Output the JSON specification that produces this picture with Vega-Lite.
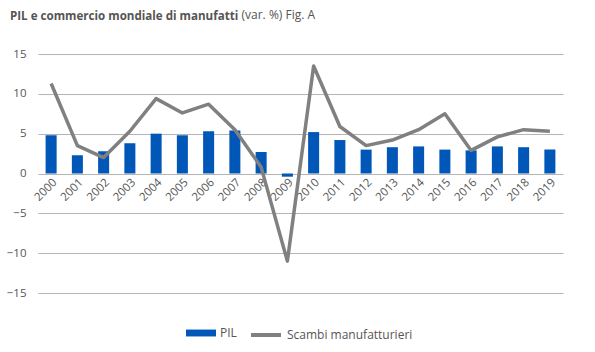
{
  "$schema": "https://vega.github.io/schema/vega-lite/v6.json",
  "width": 525,
  "height": 239,
  "autosize": {"type": "none"},
  "padding": {"left": 38, "top": 54, "right": 32, "bottom": 59},
  "background": "white",
  "title": {
    "text": "PIL e commercio mondiale di manufatti",
    "anchor": "start",
    "frame": "group",
    "dx": -28,
    "offset": -15,
    "font": "Open Sans",
    "fontSize": 11.6,
    "fontWeight": "bold",
    "color": "#555555"
  },
  "data": {
    "values": [
      {"anno": "2000", "serie": "PIL", "valore": 4.8},
      {"anno": "2001", "serie": "PIL", "valore": 2.3},
      {"anno": "2002", "serie": "PIL", "valore": 2.8},
      {"anno": "2003", "serie": "PIL", "valore": 3.8},
      {"anno": "2004", "serie": "PIL", "valore": 5.0},
      {"anno": "2005", "serie": "PIL", "valore": 4.8},
      {"anno": "2006", "serie": "PIL", "valore": 5.3},
      {"anno": "2007", "serie": "PIL", "valore": 5.4},
      {"anno": "2008", "serie": "PIL", "valore": 2.7},
      {"anno": "2009", "serie": "PIL", "valore": -0.4},
      {"anno": "2010", "serie": "PIL", "valore": 5.2},
      {"anno": "2011", "serie": "PIL", "valore": 4.2},
      {"anno": "2012", "serie": "PIL", "valore": 3.0},
      {"anno": "2013", "serie": "PIL", "valore": 3.3},
      {"anno": "2014", "serie": "PIL", "valore": 3.4},
      {"anno": "2015", "serie": "PIL", "valore": 3.0},
      {"anno": "2016", "serie": "PIL", "valore": 2.9},
      {"anno": "2017", "serie": "PIL", "valore": 3.4},
      {"anno": "2018", "serie": "PIL", "valore": 3.3},
      {"anno": "2019", "serie": "PIL", "valore": 3.0},
      {"anno": "2000", "serie": "Scambi manufatturieri", "valore": 11.3},
      {"anno": "2001", "serie": "Scambi manufatturieri", "valore": 3.5},
      {"anno": "2002", "serie": "Scambi manufatturieri", "valore": 2.0},
      {"anno": "2003", "serie": "Scambi manufatturieri", "valore": 5.3},
      {"anno": "2004", "serie": "Scambi manufatturieri", "valore": 9.4},
      {"anno": "2005", "serie": "Scambi manufatturieri", "valore": 7.6},
      {"anno": "2006", "serie": "Scambi manufatturieri", "valore": 8.7},
      {"anno": "2007", "serie": "Scambi manufatturieri", "valore": 5.5},
      {"anno": "2008", "serie": "Scambi manufatturieri", "valore": 0.8},
      {"anno": "2009", "serie": "Scambi manufatturieri", "valore": -11.0},
      {"anno": "2010", "serie": "Scambi manufatturieri", "valore": 13.5},
      {"anno": "2011", "serie": "Scambi manufatturieri", "valore": 5.9},
      {"anno": "2012", "serie": "Scambi manufatturieri", "valore": 3.5},
      {"anno": "2013", "serie": "Scambi manufatturieri", "valore": 4.2},
      {"anno": "2014", "serie": "Scambi manufatturieri", "valore": 5.5},
      {"anno": "2015", "serie": "Scambi manufatturieri", "valore": 7.5},
      {"anno": "2016", "serie": "Scambi manufatturieri", "valore": 2.9},
      {"anno": "2017", "serie": "Scambi manufatturieri", "valore": 4.6},
      {"anno": "2018", "serie": "Scambi manufatturieri", "valore": 5.5},
      {"anno": "2019", "serie": "Scambi manufatturieri", "valore": 5.3}
    ]
  },
  "encoding": {
    "x": {
      "field": "anno",
      "type": "nominal",
      "scale": {"paddingInner": 0.58, "paddingOuter": 0.29},
      "axis": {
        "title": null,
        "offset": -119.7,
        "domain": false,
        "ticks": false,
        "labelAngle": -45,
        "labelPadding": 3,
        "labelFont": "Open Sans",
        "labelFontSize": 11.5,
        "labelColor": "#555555"
      }
    },
    "y": {
      "field": "valore",
      "type": "quantitative",
      "scale": {"domain": [-15, 15], "nice": false},
      "axis": {
        "title": "(var. %) Fig. A",
        "titleAngle": 0,
        "titleAlign": "left",
        "titleBaseline": "alphabetic",
        "titleX": 203,
        "titleY": -36,
        "titleFont": "Open Sans",
        "titleFontSize": 12,
        "titleFontWeight": "normal",
        "titleColor": "#555555",
        "values": [-15, -10, -5, 0, 5, 10, 15],
        "domain": false,
        "ticks": false,
        "labelPadding": 12,
        "labelFont": "Open Sans",
        "labelFontSize": 11.5,
        "labelColor": "#555555",
        "gridColor": "#b4b4b4",
        "gridWidth": 1.2
      }
    }
  },
  "layer": [
    {
      "transform": [{"filter": "datum.serie === 'PIL'"}],
      "mark": {"type": "bar"},
      "encoding": {
        "fill": {
          "field": "serie",
          "type": "nominal",
          "scale": {"domain": ["PIL"], "range": ["#0057b8"]},
          "legend": {
            "title": null,
            "orient": "none",
            "legendX": 148,
            "legendY": 264,
            "symbolType": "M-1,-0.23H1V0.23H-1Z",
            "symbolSize": 900,
            "symbolStrokeWidth": 0,
            "labelFont": "Open Sans",
            "labelFontSize": 12,
            "labelColor": "#555555",
            "labelOffset": 4
          }
        }
      }
    },
    {
      "transform": [{"filter": "datum.serie !== 'PIL'"}],
      "mark": {"type": "line", "strokeWidth": 3.5, "strokeJoin": "round"},
      "encoding": {
        "stroke": {
          "field": "serie",
          "type": "nominal",
          "scale": {"domain": ["Scambi manufatturieri"], "range": ["#808080"]},
          "legend": {
            "title": null,
            "orient": "none",
            "legendX": 211,
            "legendY": 264,
            "symbolType": "stroke",
            "symbolSize": 900,
            "symbolStrokeWidth": 4,
            "labelFont": "Open Sans",
            "labelFontSize": 12,
            "labelColor": "#555555",
            "labelOffset": 4
          }
        }
      }
    }
  ],
  "config": {"view": {"stroke": null}}
}
